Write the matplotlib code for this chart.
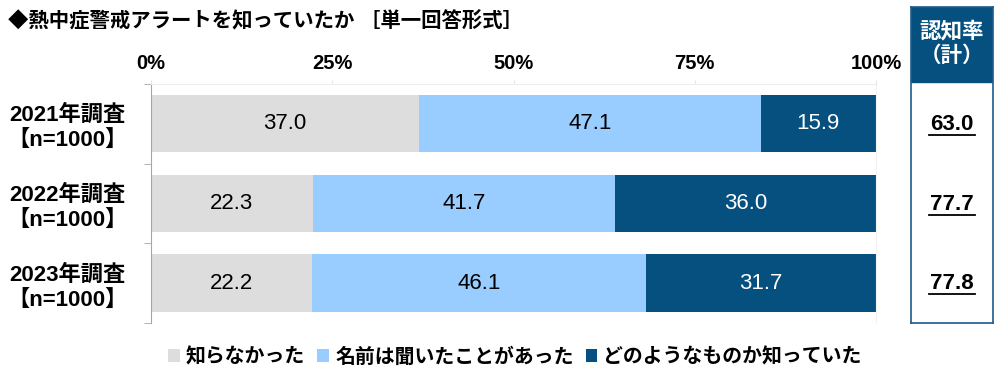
import matplotlib
matplotlib.use("Agg")
import matplotlib.pyplot as plt
import numpy as np

plt.rcParams['font.family'] = ['Liberation Sans', 'Noto Sans CJK JP', 'DejaVu Sans']

# data
years = ['2021年調査\n【n=1000】', '2022年調査\n【n=1000】', '2023年調査\n【n=1000】']
series_names = ['知らなかった', '名前は聞いたことがあった', 'どのようなものか知っていた']
not_known = [37.0, 22.3, 22.2]
heard_name = [47.1, 41.7, 46.1]
knew_what = [15.9, 36.0, 31.7]
awareness = [63.0, 77.7, 77.8]
xticks = [0, 25, 50, 75, 100]

colors = ['#DDDDDD', '#99CCFF', '#05507F']
text_colors = ['black', 'black', 'white']

fig = plt.figure(figsize=(10, 3.81), dpi=100)
ax = fig.add_axes([0.151, 0.152, 0.725, 0.628])

y = np.arange(len(years))
left = np.zeros(len(years))
handles = []
for vals, c, tc, name in zip([not_known, heard_name, knew_what], colors, text_colors, series_names):
    bars = ax.barh(y, vals, left=left, height=0.72, color=c, label=name)
    handles.append(bars)
    for yi, l, v in zip(y, left, vals):
        ax.text(l + v / 2, yi, f'{v:.1f}', ha='center', va='center', color=tc, fontsize=16)
    left += np.array(vals)

ax.set_xlim(0, 100)
ax.set_ylim(2.5, -0.5)
ax.xaxis.tick_top()
ax.set_xticks(xticks)
ax.set_xticklabels([f'{t}%' for t in xticks], fontsize=14.5, fontweight='bold')
ax.tick_params(axis='x', length=3, color='#E6E6E6', pad=5)
ax.set_yticks(y)
ax.set_yticklabels(years, fontsize=16, fontweight='bold', linespacing=1.3, ha='center')
ax.set_yticks([-0.5, 0.5, 1.5, 2.5], minor=True)
ax.tick_params(axis='y', which='major', length=0, pad=60)
ax.tick_params(axis='y', which='minor', length=5, color='#A6A6A6')
ax.spines['left'].set_color('#A6A6A6')
ax.spines['top'].set_color('#EEEEEE')
ax.spines['right'].set_color('#F2F2F2')
ax.spines['bottom'].set_visible(False)

fig.text(0.008, 0.945, '◆熱中症警戒アラートを知っていたか ［単一回答形式］', fontsize=14.7,
         fontweight='bold', va='center', ha='left')

fig.legend(handles=handles, labels=series_names, loc='center', bbox_to_anchor=(0.515, 0.063),
           ncol=3, frameon=False, prop={'weight': 'bold', 'size': 14.3},
           handlelength=0.6, handleheight=0.6, handletextpad=0.3, columnspacing=0.6)

# right panel
rax = fig.add_axes([0.911, 1 - 323 / 381, 0.082, 316 / 381])
rax.set_xlim(0, 1)
rax.set_ylim(323, 7)
rax.set_xticks([])
rax.set_yticks([])
for s in rax.spines.values():
    s.set_color('#1F5A8A')
    s.set_linewidth(1.2)
rax.axhspan(7, 82, color='#05507F')
rax.text(0.5, 44, '認知率\n（計）', color='white', fontsize=15.5, fontweight='bold',
         ha='center', va='center', linespacing=1.25)
for yc, v in zip([124, 204, 283], awareness):
    rax.text(0.5, yc, f'{v:.1f}', ha='center', va='center', fontsize=16, fontweight='bold')
    rax.plot([0.22, 0.78], [yc + 11, yc + 11], color='black', lw=1.3)

fig.savefig('out.png', dpi=100)
